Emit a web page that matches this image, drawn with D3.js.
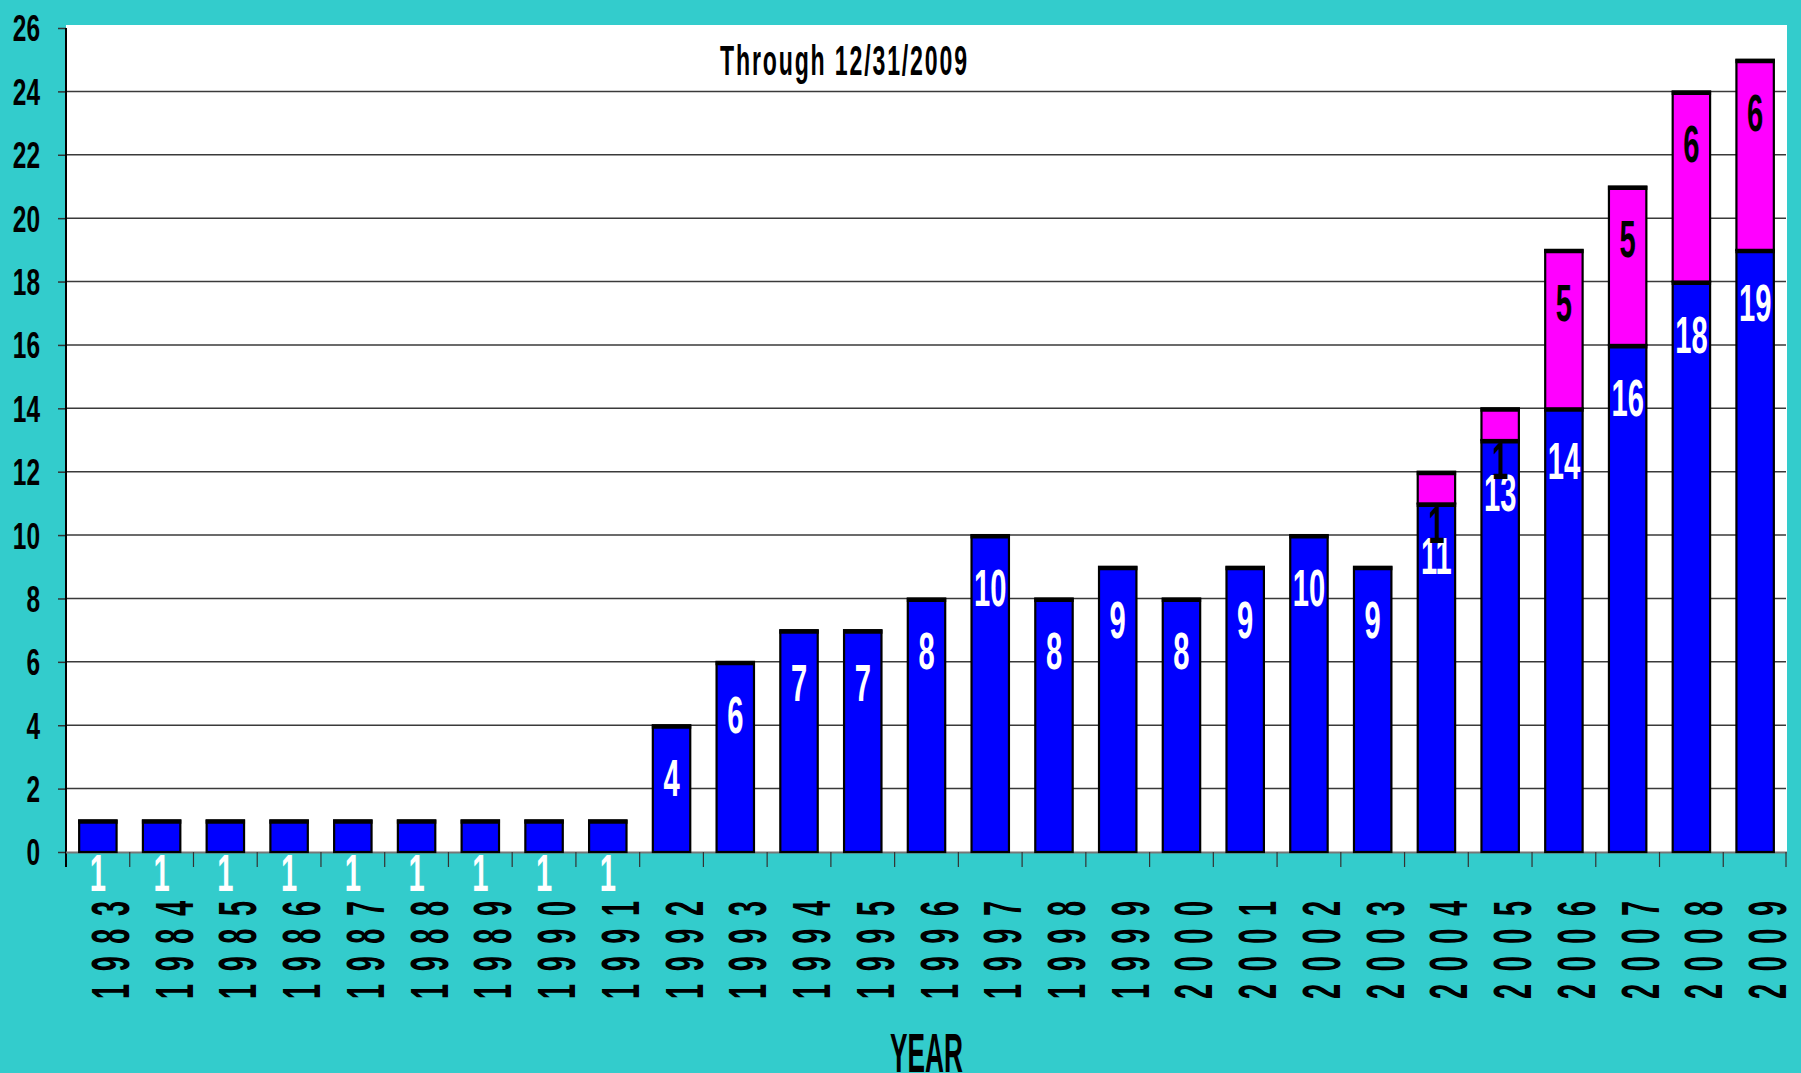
<!DOCTYPE html>
<html>
<head>
<meta charset="utf-8">
<script src="https://cdn.jsdelivr.net/npm/d3@7"></script>
<style>
  html, body { margin: 0; padding: 0; background: #33CCCC; overflow: hidden; }
  svg { display: block; }
  text { font-family: "Liberation Sans", Arial, sans-serif; font-weight: bold; }
</style>
</head>
<body>
<svg id="chart" width="1801" height="1073"></svg>
<script>
// ---- data ----
const years = ["1983","1984","1985","1986","1987","1988","1989","1990","1991","1992","1993","1994","1995","1996","1997","1998","1999","2000","2001","2002","2003","2004","2005","2006","2007","2008","2009"];
const blueValues = [1,1,1,1,1,1,1,1,1,4,6,7,7,8,10,8,9,8,9,10,9,11,13,14,16,18,19];
const magentaValues = [0,0,0,0,0,0,0,0,0,0,0,0,0,0,0,0,0,0,0,0,0,1,1,5,5,6,6];
const yTickValues = [0,2,4,6,8,10,12,14,16,18,20,22,24,26];
const subtitle = "Through 12/31/2009";
const xTitle = "YEAR";

// ---- layout ----
const W = 1801, H = 1073;
const plotLeft = 66, plotRight = 1787, plotTop = 25, baseY = 852;

const svg = d3.select("#chart");
svg.append("rect").attr("width", W).attr("height", H).attr("fill", "#33CCCC");

const x = d3.scaleBand().domain(years).range([plotLeft, plotRight])
  .paddingInner(0.413).paddingOuter(0.2065);
const step = x.step();
const y = d3.scaleLinear().domain([0, 26]).range([baseY, 28]);

// plot background
svg.append("rect").attr("x", plotLeft).attr("y", plotTop)
  .attr("width", plotRight - plotLeft).attr("height", baseY - plotTop).attr("fill", "#FFFFFF");

// gridlines
svg.append("g").selectAll("line").data(yTickValues.filter(v => v > 0 && v < 26)).join("line")
  .attr("x1", plotLeft).attr("x2", plotRight - 1)
  .attr("y1", d => y(d)).attr("y2", d => y(d))
  .attr("stroke", "#3a3a3a").attr("stroke-width", 1.5);

// y axis
const yAxis = d3.axisLeft(y).tickValues(yTickValues).tickSize(8).tickFormat(d3.format("d"));
const gy = svg.append("g").attr("transform", `translate(${plotLeft},0)`).call(yAxis);
gy.select(".domain").remove();
gy.selectAll(".tick line").attr("stroke", "#333").attr("stroke-width", 1.5);
gy.selectAll(".tick text").remove();
gy.selectAll(".tick").append("text")
  .attr("transform", "translate(-26,0) scale(0.68,1)")
  .attr("text-anchor", "end").attr("dy", "0.36em")
  .attr("font-size", 36).attr("fill", "#000")
  .text(d => d);
svg.append("line").attr("x1", plotLeft).attr("x2", plotLeft).attr("y1", 28).attr("y2", 867)
  .attr("stroke", "#000").attr("stroke-width", 2);

// x baseline and boundary ticks
svg.append("line").attr("x1", plotLeft).attr("x2", plotRight).attr("y1", baseY + 0.5).attr("y2", baseY + 0.5)
  .attr("stroke", "#777").attr("stroke-width", 2);
const boundaries = years.map(d => x(d) - step * x.paddingInner() / 2).concat([plotRight - 1]);
svg.append("g").selectAll("line").data(boundaries.slice(1)).join("line")
  .attr("x1", d => d).attr("x2", d => d).attr("y1", baseY).attr("y2", 867)
  .attr("stroke", "#333").attr("stroke-width", 1.2);

// stacked bars
const table = years.map((yr, i) => ({ year: yr, blue: blueValues[i], magenta: magentaValues[i] }));
const stack = d3.stack().keys(["blue", "magenta"])(table);
const colors = { blue: "#0000FF", magenta: "#FF00FF" };
const labelColors = { blue: "#FFFFFF", magenta: "#000000" };

const barsG = svg.append("g");
stack.forEach(layer => {
  const segs = layer.filter(s => s[1] - s[0] > 0);
  const g = barsG.append("g");
  g.selectAll("rect").data(segs).join("rect")
    .attr("x", s => x(s.data.year)).attr("width", x.bandwidth())
    .attr("y", s => y(s[1])).attr("height", s => y(s[0]) - y(s[1]))
    .attr("fill", colors[layer.key]).attr("stroke", "#000").attr("stroke-width", 2.2);
  g.selectAll("line").data(segs).join("line")
    .attr("x1", s => x(s.data.year) - 1).attr("x2", s => x(s.data.year) + x.bandwidth() + 1)
    .attr("y1", s => y(s[1]) + 1.5).attr("y2", s => y(s[1]) + 1.5)
    .attr("stroke", "#000").attr("stroke-width", 4);
});

// value labels (blue first, then magenta on top)
stack.forEach(layer => {
  const segs = layer.filter(s => s[1] - s[0] > 0);
  svg.append("g").selectAll("text").data(segs).join("text")
    .attr("transform", s => `translate(${x(s.data.year) + x.bandwidth() / 2},${y(s[1]) + 71}) scale(0.56,1)`)
    .attr("text-anchor", "middle").attr("font-size", 52)
    .attr("fill", labelColors[layer.key])
    .text(s => s[1] - s[0]);
});

// year labels (rotated)
svg.append("g").selectAll("text").data(years).join("text")
  .attr("transform", d => `translate(${x(d) + x.bandwidth() / 2 + 31},950) rotate(-90) scale(0.5,1)`)
  .attr("text-anchor", "middle").attr("font-size", 54).attr("fill", "#000")
  .attr("textLength", 196).attr("lengthAdjust", "spacing")
  .text(d => d);

// subtitle
svg.append("text")
  .attr("transform", "translate(720,75) scale(0.55,1)")
  .attr("font-size", 42).attr("fill", "#000")
  .attr("textLength", 247 / 0.55).attr("lengthAdjust", "spacing")
  .text(subtitle);

// x axis title
svg.append("text")
  .attr("x", 890).attr("y", 1072)
  .attr("font-size", 56).attr("fill", "#000")
  .attr("textLength", 73).attr("lengthAdjust", "spacingAndGlyphs")
  .text(xTitle);
</script>
</body>
</html>
